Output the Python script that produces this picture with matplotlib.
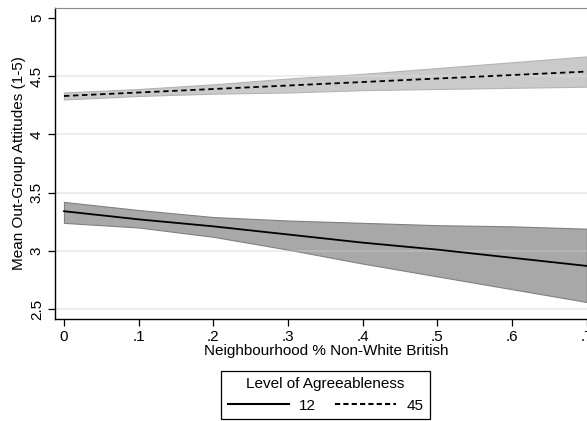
import matplotlib
matplotlib.use("Agg")
import matplotlib.pyplot as plt
from matplotlib.lines import Line2D

plt.rcParams["font.family"] = ["Liberation Sans", "DejaVu Sans"]

# ── Data (margins at each 0.1 step) ───────────────────────────────────────────
share = [0.0, 0.1, 0.2, 0.3, 0.4, 0.5, 0.6, 0.7]

low_mean  = [3.34, 3.27, 3.21, 3.14, 3.07, 3.01, 2.94, 2.87]
low_upper = [3.42, 3.35, 3.29, 3.26, 3.24, 3.22, 3.21, 3.19]
low_lower = [3.24, 3.20, 3.12, 3.01, 2.89, 2.78, 2.67, 2.56]

high_mean  = [4.33, 4.36, 4.39, 4.42, 4.45, 4.48, 4.51, 4.54]
high_upper = [4.36, 4.39, 4.43, 4.48, 4.52, 4.57, 4.62, 4.67]
high_lower = [4.30, 4.33, 4.35, 4.36, 4.38, 4.39, 4.40, 4.41]

x_ticks  = [0.0, 0.1, 0.2, 0.3, 0.4, 0.5, 0.6, 0.7]
x_labels = ["0", ".1", ".2", ".3", ".4", ".5", ".6", ".7"]
y_ticks  = [2.5, 3.0, 3.5, 4.0, 4.5, 5.0]
y_labels = ["2.5", "3", "3.5", "4", "4.5", "5"]
grid_at  = [2.5, 3.0, 3.5, 4.0, 4.5]

fig = plt.figure(figsize=(5.87, 4.21), dpi=100)
ax = fig.add_axes([0.0937, 0.2423, 0.925, 0.7387])

# grid under everything, faint overlay on top of the bands
for g in grid_at:
    ax.axhline(g, color="#e6e6e6", linewidth=1.2, zorder=0)

ax.fill_between(share, high_lower, high_upper, facecolor="#cacaca",
                edgecolor="#b4b4b4", linewidth=0.8, zorder=1)
ax.fill_between(share, low_lower, low_upper, facecolor="#a8a8a8",
                edgecolor="#808080", linewidth=0.8, zorder=1)

for g in grid_at:
    ax.axhline(g, color="white", alpha=0.2, linewidth=1.2, zorder=1.5)

ax.plot(share, low_mean, color="black", linewidth=1.3, zorder=3)
ax.plot(share, high_mean, color="black", linewidth=1.3,
        dashes=(3, 2), zorder=3)

ax.set_xlim(-0.012, 0.715)
ax.set_ylim(2.414, 5.086)
ax.set_xticks(x_ticks)
ax.set_xticklabels(x_labels, fontsize=11)
ax.set_yticks(y_ticks)
ax.set_yticklabels(y_labels, fontsize=11, rotation=90, va="center")
ax.tick_params(direction="out", length=5, width=0.9, color="black", pad=3)

ax.spines["right"].set_visible(False)
ax.spines["top"].set_color("#888888")
ax.spines["left"].set_linewidth(1.0)
ax.spines["bottom"].set_linewidth(1.0)

ax.set_xlabel("Neighbourhood % Non-White British", fontsize=11, labelpad=0)
ax.set_ylabel("Mean Out-Group Attitudes (1-5)", fontsize=11, labelpad=3)

handles = [
    Line2D([], [], color="black", linewidth=1.5, label="12"),
    Line2D([], [], color="black", linewidth=1.5, dashes=(2.5, 1.5), label="45"),
]
leg = fig.legend(handles=handles, title="Level of Agreeableness", ncol=2,
                 loc="center", bbox_to_anchor=(0.5545, 0.0618),
                 fontsize=11, title_fontsize=11, fancybox=False,
                 edgecolor="black", framealpha=1, handlelength=4.0,
                 handletextpad=0.7, columnspacing=1.2, borderpad=0.4)
leg.get_frame().set_linewidth(0.9)

fig.savefig("out.png", dpi=100)
